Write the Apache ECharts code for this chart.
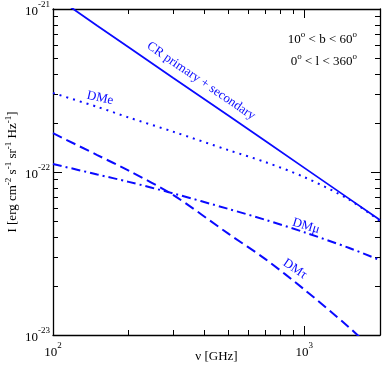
<!DOCTYPE html>
<html>
<head>
<meta charset="utf-8">
<script src="https://cdn.jsdelivr.net/npm/echarts@6/dist/echarts.min.js"></script>
<style>
  html, body { margin: 0; padding: 0; background: #fff; }
  #chart { width: 382px; height: 371px; }
</style>
</head>
<body>
<div id="chart"></div>
<script>
// frequencies (GHz)
const freq = [100, 150, 200, 300, 500, 700, 1000, 1500, 2000];
// intensities, erg cm^-2 s^-1 sr^-1 Hz^-1
const crPrimSec = [1.22e-21, 7.9e-22, 5.83e-22, 3.79e-22, 2.21e-22, 1.55e-22, 1.06e-22, 6.89e-23, 5.07e-23];
const dmE   = [3.05e-22, 2.51e-22, 2.16e-22, 1.77e-22, 1.36e-22, 1.15e-22, 9.3e-23, 6.8e-23, 5.0e-23];
const dmMu  = [1.12e-22, 9.66e-23, 8.7e-23, 7.4e-23, 5.93e-23, 5.09e-23, 4.27e-23, 3.43e-23, 2.88e-23];
const dmTau = [1.73e-22, 1.27e-22, 1.02e-22, 7.24e-23, 4.17e-23, 2.92e-23, 1.9e-23, 1.12e-23, 7.4e-24];

const xMajor = [100, 1000];
const xMinor = [200, 300, 400, 500, 600, 700, 800, 900, 2000];
const yMajor = [1e-23, 1e-22, 1e-21];
const yMinor = [2e-23, 3e-23, 4e-23, 5e-23, 6e-23, 7e-23, 8e-23, 9e-23,
                2e-22, 3e-22, 4e-22, 5e-22, 6e-22, 7e-22, 8e-22, 9e-22];

// echarts rounds very small log ticks to 0, so the y axis works in units of 1e-23
const Y_EXP = 23;
const ys = function (v) { return Number((v * Math.pow(10, Y_EXP)).toPrecision(6)); };

const FONT = "'Liberation Serif', 'DejaVu Serif', serif";
const BLUE = '#0a0aff';

const supRich = {
  b: { fontFamily: FONT, fontSize: 13, color: '#000', lineHeight: 18, verticalAlign: 'bottom' },
  s: { fontFamily: FONT, fontSize: 9, color: '#000', lineHeight: 18, verticalAlign: 'top' }
};
const xLabel = function (v) {
  return '{b|10}{s|' + Math.round(Math.log10(v)) + '}';
};
const yLabel = function (v) {
  return '{b|10}{s|' + (Math.round(Math.log10(v)) - Y_EXP) + '}';
};

function xAx(pos, ticks, len, showLine, label) {
  return {
    type: 'log', logBase: 10, min: 100, max: 2000, position: pos,
    axisLine: { show: showLine, onZero: false, lineStyle: { color: '#000', width: 1.3 } },
    axisTick: { show: true, inside: true, length: len, customValues: ticks, lineStyle: { color: '#000', width: 1 } },
    axisLabel: label ? { show: true, customValues: xMajor, formatter: xLabel, rich: supRich, margin: 6 } : { show: false },
    splitLine: { show: false }, minorTick: { show: false }
  };
}
function yAx(pos, ticks, len, showLine, label) {
  return {
    type: 'log', logBase: 10, min: ys(yMajor[0]), max: ys(yMajor[2]), position: pos,
    axisLine: { show: showLine, onZero: false, lineStyle: { color: '#000', width: 1.3 } },
    axisTick: { show: true, inside: true, length: len, customValues: ticks.map(ys), lineStyle: { color: '#000', width: 1 } },
    axisLabel: label ? { show: true, customValues: yMajor.map(ys), formatter: yLabel, rich: supRich, margin: 3 } : { show: false },
    splitLine: { show: false }, minorTick: { show: false }
  };
}

const xAxes = [
  xAx('bottom', xMajor, 9, true, true),
  xAx('bottom', xMinor, 5, false, false),
  xAx('top', xMajor, 9, true, false),
  xAx('top', xMinor, 5, false, false)
];
xAxes[0].name = 'ν [GHz]';
xAxes[0].nameLocation = 'middle';
xAxes[0].nameGap = 15;
xAxes[0].nameMoveOverlap = false;
xAxes[0].nameTextStyle = { fontFamily: FONT, fontSize: 13, color: '#000' };

const yAxes = [
  yAx('left', yMajor, 9, true, true),
  yAx('left', yMinor, 5, false, false),
  yAx('right', yMajor, 9, true, false),
  yAx('right', yMinor, 5, false, false)
];
yAxes[0].name = 'I [erg cm{s|-2} s{s|-1} sr{s|-1} Hz{s|-1}]';
yAxes[0].nameLocation = 'middle';
yAxes[0].nameRotate = 90;
yAxes[0].nameGap = 31;
yAxes[0].nameMoveOverlap = false;
yAxes[0].nameTextStyle = {
  fontFamily: FONT, fontSize: 13, color: '#000',
  rich: {
    s: { fontFamily: FONT, fontSize: 9, color: '#000', lineHeight: 18, verticalAlign: 'top' }
  }
};

function pairs(vals) {
  return freq.map(function (f, i) { return [f, ys(vals[i])]; });
}
function line(name, vals, type, smooth) {
  return {
    name: name, type: 'line', data: pairs(vals), showSymbol: false, smooth: smooth,
    clip: true, xAxisIndex: 0, yAxisIndex: 0,
    lineStyle: { color: BLUE, width: type === 'solid' ? 1.8 : 2, type: type }
  };
}

const labelStyle = { fontFamily: FONT, fontSize: 13, fill: BLUE, align: 'center', verticalAlign: 'middle' };
function tag(text, x, y, rot) {
  return { type: 'text', x: x, y: y, rotation: rot, style: Object.assign({ text: text }, labelStyle) };
}
const noteRich = {
  n: { fontFamily: FONT, fontSize: 13, fill: '#000', lineHeight: 16, verticalAlign: 'bottom' },
  s: { fontFamily: FONT, fontSize: 9, fill: '#000', lineHeight: 16, verticalAlign: 'top' }
};

const chart = echarts.init(document.getElementById('chart'));
chart.setOption({
  animation: false,
  backgroundColor: '#fff',
  grid: { left: 53, right: 2, top: 9, bottom: 36, containLabel: false, outerBoundsMode: 'none' },
  xAxis: xAxes,
  yAxis: yAxes,
  series: [
    line('CR primary + secondary', crPrimSec, 'solid', false),
    line('DMe', dmE, [2, 5], 0.3),
    line('DMmu', dmMu, [9, 4, 2, 4], 0.3),
    line('DMtau', dmTau, [10, 5], 0.3)
  ],
  graphic: [
    tag('CR primary + secondary', 201, 81, -0.60),
    tag('DMe', 100, 98, -0.22),
    tag('DMμ', 306, 226, -0.3),
    tag('DMτ', 295, 269, -0.6),
    { type: 'text', x: 357, y: 38,
      style: { text: '{n|10}{s|o}{n| < b < 60}{s|o}', rich: noteRich, align: 'right', verticalAlign: 'middle' } },
    { type: 'text', x: 357, y: 60,
      style: { text: '{n|0}{s|o}{n| < l < 360}{s|o}', rich: noteRich, align: 'right', verticalAlign: 'middle' } }
  ]
});
</script>
</body>
</html>
